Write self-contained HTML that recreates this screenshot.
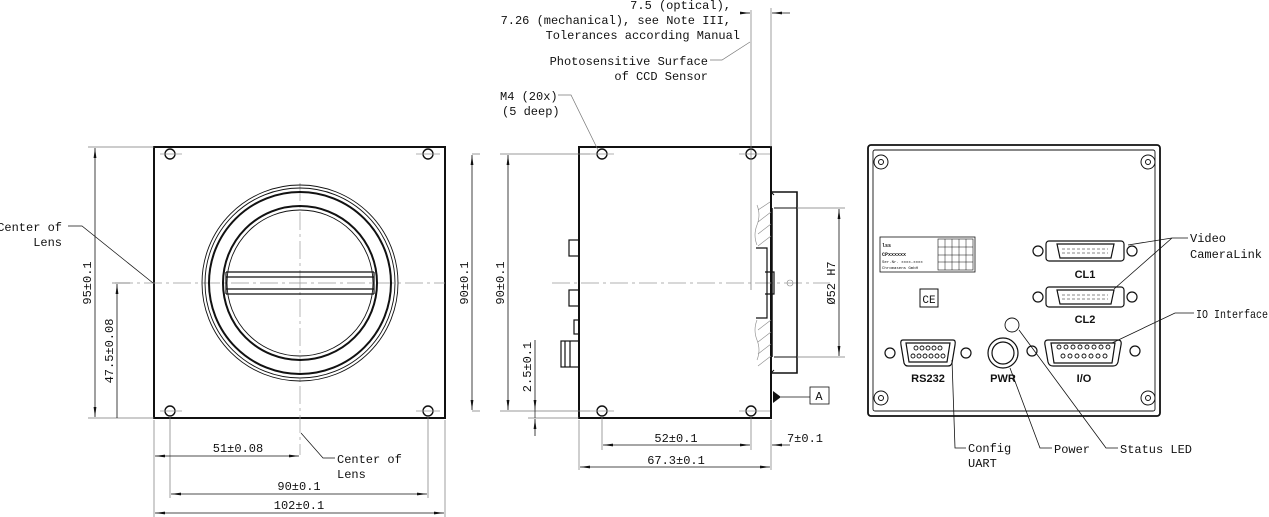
<!DOCTYPE html>
<html><head><meta charset="utf-8"><style>
html,body{margin:0;padding:0;background:#fff;}
svg{display:block}
text{font-family:"Liberation Mono",monospace;font-size:12px;fill:#111;}
.b{font-family:"Liberation Sans",sans-serif;font-weight:bold;font-size:11px;}
</style></head><body>
<svg width="1269" height="517" viewBox="0 0 1269 517" xmlns="http://www.w3.org/2000/svg">
<defs>
<marker id="ar" viewBox="0 0 10 4" refX="10" refY="2" markerWidth="10" markerHeight="4" orient="auto-start-reverse" markerUnits="userSpaceOnUse"><path d="M0,0.6 L10,2 L0,3.4z" fill="#111"/></marker>
</defs>
<g fill="none" stroke="#111">
<!-- FRONT VIEW -->
<rect x="154" y="147" width="291" height="271" stroke-width="2"/>
<g stroke-width="1.4">
<circle cx="170" cy="154" r="5"/><circle cx="428" cy="154" r="5"/>
<circle cx="170" cy="411" r="5"/><circle cx="428" cy="411" r="5"/>
</g>
<g stroke="#999" stroke-width="0.7">
<path d="M160 154H182M416 154H440M160 411H182M416 411H440"/>
<path d="M115 283H445" stroke-dasharray="18 4 3 4"/>
<path d="M300 183V455" stroke-dasharray="18 4 3 4"/>
</g>
<circle cx="300" cy="283" r="98" stroke-width="0.9"/>
<circle cx="300" cy="283" r="95" stroke-width="0.9"/>
<circle cx="300" cy="283" r="91" stroke-width="2"/>
<circle cx="300" cy="283" r="77" stroke-width="2"/>
<circle cx="300" cy="283" r="73" stroke-width="0.9"/>
<g stroke-width="1.2">
<path d="M226 272H374M226 277H374M226 289H374M226 294H374"/>
<path d="M226 272V294M374 272V294"/>
</g>
<!-- front dims -->
<g stroke="#777" stroke-width="0.7">
<path d="M88 147H154M88 418H154M112 283H130M472 154H480M472 411H480"/>
<path d="M154 420V517M170 416V498M428 416V498M445 420V517"/>
</g>
<g stroke-width="0.8" marker-start="url(#ar)" marker-end="url(#ar)">
<path d="M95 148V417"/>
<path d="M117 418V284" marker-start="none"/>
<path d="M472 155V410"/>
<path d="M155 456H299"/>
<path d="M171 494H427"/>
<path d="M155 513H444"/>
</g>
<g stroke-width="0.7"><path d="M68 226H82L153 283"/><path d="M301 433L323 458H335"/></g>
<!-- SIDE VIEW -->
<rect x="579" y="147" width="192" height="271" stroke-width="2"/>
<g stroke-width="1.4">
<circle cx="602" cy="154" r="5"/><circle cx="751" cy="154" r="5"/>
<circle cx="602" cy="411" r="5"/><circle cx="751" cy="411" r="5"/>
</g>
<g stroke="#999" stroke-width="0.7">
<path d="M590 154H614M739 154H770M590 411H614M739 411H770"/>
<path d="M552 283H830" stroke-dasharray="18 4 3 4"/>
</g>
<!-- mount -->
<path d="M771 192H797V373H771" stroke-width="1.6"/>
<path d="M774 208H797M774 357H797" stroke-width="1"/>
<path d="M772 208V357" stroke-width="1.5"/>
<path d="M771 192l3 3M771 373l3-3" stroke-width="1"/>
<g stroke="#888" stroke-width="0.6">
<path d="M757 205q4 10 0 20q-4 10 0 20M757 320q-4 10 0 20q4 10 0 20"/>
<path d="M758 210l12-8M758 222l13-10M758 234l13-10M758 246l13-10M758 330l13-10M758 342l13-10M758 354l13-10M758 366l13-10"/>
</g>
<path d="M756 248H767V318H756M765 272H774V294H765" stroke-width="1.2"/>
<circle cx="790" cy="283" r="3" stroke="#888" stroke-width="0.6"/>
<!-- left connectors -->
<g stroke-width="1.2">
<rect x="569" y="240" width="10" height="16"/><rect x="569" y="290" width="10" height="16"/>
<rect x="574" y="320" width="5" height="14"/>
<rect x="561" y="341" width="18" height="26"/>
<path d="M565 341V367M570 341V367"/>
</g>
<path d="M773 391L781 397L773 403z" fill="#111" stroke="none"/>
<path d="M781 397H810" stroke-width="0.7"/>
<rect x="810" y="387" width="19" height="17" stroke-width="0.8"/>
<!-- side dims -->
<g stroke="#777" stroke-width="0.7">
<path d="M500 154H590M500 411H590M528 418H579M797 208H845M797 357H845"/>
<path d="M602 416V450M751 10V290M751 416V450M771 8V147M771 420V470M579 420V470"/>
</g>
<g stroke-width="0.8" marker-start="url(#ar)" marker-end="url(#ar)">
<path d="M508 155V410"/>
<path d="M839 209V356"/>
<path d="M603 445H750"/>
<path d="M580 467H770"/>
<path d="M535 340V410" marker-start="none"/>
<path d="M535 436V419" marker-start="none"/>
<path d="M790 445H772" marker-start="none"/>
<path d="M740 13H750" marker-start="none"/>
<path d="M790 13H772" marker-start="none"/>
</g>
<path d="M535 410V418" stroke-width="0.7"/>
<g stroke="#777" stroke-width="0.7"><path d="M710 60H722L750 42"/><path d="M558 95H571L598 150"/></g>
<!-- BACK VIEW -->
<rect x="868" y="145" width="292" height="271" rx="3" stroke-width="1.8"/>
<rect x="873" y="150" width="282" height="261" rx="2" stroke-width="0.9"/>
<g stroke-width="1">
<circle cx="881" cy="162" r="7"/><circle cx="881" cy="162" r="2.5"/>
<circle cx="1148" cy="162" r="7"/><circle cx="1148" cy="162" r="2.5"/>
<circle cx="881" cy="398" r="7"/><circle cx="881" cy="398" r="2.5"/>
<circle cx="1148" cy="398" r="7"/><circle cx="1148" cy="398" r="2.5"/>
</g>
<rect x="880" y="237" width="95" height="35" stroke-width="0.8"/>
<rect x="938" y="239" width="35" height="31" stroke-width="0.6"/>
<path d="M945 239V270M952 239V270M959 239V270M966 239V270M938 247H973M938 255H973M938 262H973" stroke-width="0.5"/>
<g stroke-width="1"><rect x="920" y="289" width="18" height="18"/></g>
<!-- CL connectors -->
<g stroke-width="1.2">
<rect x="1046" y="241" width="78" height="20" rx="3"/>
<path d="M1057 244H1114L1111 258H1060z"/>
<circle cx="1038" cy="251" r="5"/><circle cx="1132" cy="251" r="5"/>
<rect x="1046" y="287" width="78" height="20" rx="3"/>
<path d="M1057 290H1114L1111 304H1060z"/>
<circle cx="1038" cy="297" r="5"/><circle cx="1132" cy="297" r="5"/>
</g>
<path d="M1062 249H1108M1062 253H1108M1062 295H1108M1062 299H1108" stroke-width="0.5" stroke-dasharray="3 2"/>
<circle cx="1012" cy="325" r="7" stroke-width="0.9"/>
<!-- RS232 -->
<g stroke-width="1.2">
<path d="M903 340H953Q956 340 955 345L952 363Q951 366 948 366H908Q905 366 904 363L901 345Q900 340 903 340z"/>
<path d="M906 343H950L947 362H909z"/>
<circle cx="890" cy="353" r="5"/><circle cx="966" cy="353" r="5"/>
<circle cx="1003" cy="353" r="15"/><circle cx="1003" cy="353" r="11"/>
<path d="M1048 340H1118Q1122 340 1121 345L1118 362Q1117 366 1113 366H1053Q1049 366 1048 362L1045 345Q1044 340 1048 340z"/>
<path d="M1051 343H1115L1112 363H1054z"/>
<circle cx="1032" cy="351" r="5"/><circle cx="1135" cy="351" r="5"/>
</g>
<g stroke-width="0.9">
<circle cx="916" cy="348" r="2"/><circle cx="922" cy="348" r="2"/><circle cx="928" cy="348" r="2"/><circle cx="934" cy="348" r="2"/><circle cx="940" cy="348" r="2"/>
<circle cx="913" cy="356" r="2"/><circle cx="919" cy="356" r="2"/><circle cx="925" cy="356" r="2"/><circle cx="931" cy="356" r="2"/><circle cx="937" cy="356" r="2"/><circle cx="943" cy="356" r="2"/>
<circle cx="1059" cy="347" r="2"/><circle cx="1066" cy="347" r="2"/><circle cx="1073" cy="347" r="2"/><circle cx="1080" cy="347" r="2"/><circle cx="1087" cy="347" r="2"/><circle cx="1094" cy="347" r="2"/><circle cx="1101" cy="347" r="2"/><circle cx="1108" cy="347" r="2"/>
<circle cx="1063" cy="356" r="2"/><circle cx="1070" cy="356" r="2"/><circle cx="1077" cy="356" r="2"/><circle cx="1084" cy="356" r="2"/><circle cx="1091" cy="356" r="2"/><circle cx="1098" cy="356" r="2"/><circle cx="1105" cy="356" r="2"/>
</g>
<!-- back leaders -->
<g stroke-width="0.8">
<path d="M1188 238H1172L1128 245M1172 238L1114 289"/>
<path d="M1194 313H1175L1112 343"/>
<path d="M966 448H955L952 360"/>
<path d="M1052 448H1040L1010 368"/>
<path d="M1118 448H1106L1019 330"/>
</g>
</g>
<!-- TEXT -->
<text x="62" y="231" text-anchor="end">Center of</text>
<text x="62" y="246" text-anchor="end">Lens</text>
<text x="337" y="463">Center of</text>
<text x="337" y="478">Lens</text>
<text transform="translate(91,283) rotate(-90)" text-anchor="middle">95±0.1</text>
<text transform="translate(113,351) rotate(-90)" text-anchor="middle">47.5±0.08</text>
<text transform="translate(468,283) rotate(-90)" text-anchor="middle">90±0.1</text>
<text x="238" y="452" text-anchor="middle">51±0.08</text>
<text x="299" y="490" text-anchor="middle">90±0.1</text>
<text x="299" y="509" text-anchor="middle">102±0.1</text>
<text x="731" y="9" text-anchor="end">7.5  (optical),</text>
<text x="731" y="24" text-anchor="end">7.26 (mechanical), see Note III,</text>
<text x="740" y="39" text-anchor="end">Tolerances according Manual</text>
<text x="708" y="65" text-anchor="end">Photosensitive Surface</text>
<text x="708" y="80" text-anchor="end">of CCD Sensor</text>
<text x="500" y="100">M4 (20x)</text>
<text x="502" y="115">(5 deep)</text>
<text transform="translate(504,283) rotate(-90)" text-anchor="middle">90±0.1</text>
<text transform="translate(531,367) rotate(-90)" text-anchor="middle">2.5±0.1</text>
<text transform="translate(835,283) rotate(-90)" text-anchor="middle">Ø52 H7</text>
<text x="819" y="400" text-anchor="middle">A</text>
<text x="676" y="442" text-anchor="middle">52±0.1</text>
<text x="805" y="442" text-anchor="middle">7±0.1</text>
<text x="676" y="464" text-anchor="middle">67.3±0.1</text>
<text x="1190" y="242">Video</text>
<text x="1190" y="258">CameraLink</text>
<text x="1196" y="318" textLength="72" lengthAdjust="spacingAndGlyphs">IO Interface</text>
<text x="968" y="452">Config</text>
<text x="968" y="467">UART</text>
<text x="1054" y="453">Power</text>
<text x="1120" y="453">Status LED</text>
<text class="b" x="1085" y="278" text-anchor="middle">CL1</text>
<text class="b" x="1085" y="323" text-anchor="middle">CL2</text>
<text class="b" x="928" y="382" text-anchor="middle">RS232</text>
<text class="b" x="1003" y="382" text-anchor="middle">PWR</text>
<text class="b" x="1084" y="382" text-anchor="middle">I/O</text>
<text x="929" y="303" text-anchor="middle" style="font-size:11px">CE</text>
<text x="882" y="247" style="font-size:5px;font-weight:bold">lss</text>
<text x="882" y="256" style="font-size:5px;font-weight:bold">CPxxxxxx</text>
<text x="882" y="263" style="font-size:4px">Ser.Nr. xxxx-xxxx</text>
<text x="882" y="269" style="font-size:4px">Chromasens GmbH</text>
</svg>
</body></html>
